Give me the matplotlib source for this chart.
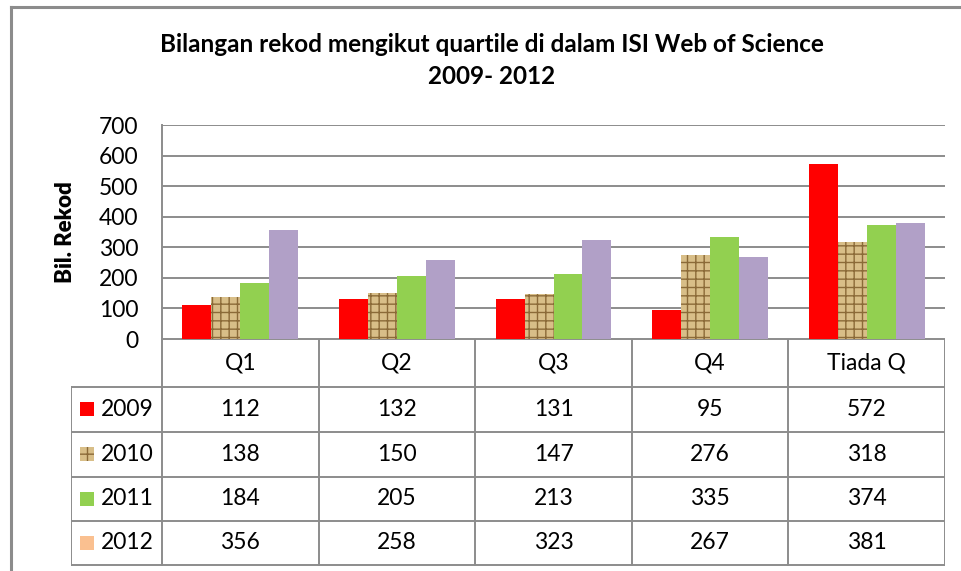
import matplotlib.pyplot as plt
import numpy as np
from matplotlib.patches import Rectangle

# data
categories = ["Q1", "Q2", "Q3", "Q4", "Tiada Q"]
years = ["2009", "2010", "2011", "2012"]
v2009 = [112, 132, 131, 95, 572]
v2010 = [138, 150, 147, 276, 318]
v2011 = [184, 205, 213, 335, 374]
v2012 = [356, 258, 323, 267, 381]
series = [v2009, v2010, v2011, v2012]

bar_colors = ["#FF0000", "#D8BE88", "#92D050", "#B1A0C7"]
key_colors = ["#FF0000", "#D8BE88", "#92D050", "#FAC090"]
hatches = [None, "++", None, None]

plt.rcParams['font.family'] = ['Lato', 'DejaVu Sans']
plt.rcParams['hatch.linewidth'] = 1.0
grey = "#8C8C8C"
fs = 16.5

W, H = 961, 571
fig = plt.figure(figsize=(W / 100, H / 100), dpi=100)

def px_box(x0, y0, x1, y1):
    return [x0 / W, 1 - y1 / H, (x1 - x0) / W, (y1 - y0) / H]

# outer frame (left + top only visible)
fig.add_artist(plt.Line2D([11 / W, 11 / W], [0, 1 - 7 / H], transform=fig.transFigure, color=grey, lw=2.2))
fig.add_artist(plt.Line2D([11 / W, 1], [1 - 7 / H, 1 - 7 / H], transform=fig.transFigure, color=grey, lw=2.2))

fig.text(492 / W, 1 - 45 / H, "Bilangan rekod mengikut quartile di dalam ISI Web of Science",
         ha='center', va='center', fontsize=17.5, fontweight='bold')
fig.text(492 / W, 1 - 76 / H, "2009- 2012", ha='center', va='center', fontsize=17.5, fontweight='bold')

# bar chart
ax = fig.add_axes(px_box(162, 125, 945, 339))
n = len(categories)
w = 0.185
x = np.arange(n) + 0.5
for j, vals in enumerate(series):
    ax.bar(x + (j - 1.5) * w, vals, width=w, color=bar_colors[j],
           hatch=hatches[j], edgecolor="#8B6A38" if hatches[j] else bar_colors[j], lw=0)
ax.set_xlim(0, n)
ax.set_ylim(0, 700)
ax.set_yticks(np.arange(0, 701, 100))
ax.set_xticks([])
ax.yaxis.grid(True, color=grey, lw=1.4)
ax.set_axisbelow(True)
for s in ["top", "right", "bottom"]:
    ax.spines[s].set_visible(False)
ax.spines["left"].set_color(grey)
ax.spines["left"].set_linewidth(1.4)
ax.tick_params(axis='y', length=0, pad=17, labelsize=fs)
ax.set_ylabel("Bil. Rekod", fontsize=16, fontweight='heavy')
ax.yaxis.set_label_coords(-(162 - 76) / 783, 0.5)

# data table under the chart
tx0 = -(162 - 71) / 156.6
tax = fig.add_axes(px_box(71, 339, 945, 566))
tax.set_xlim(tx0, n)
tax.set_ylim(566, 339)
tax.axis('off')
rows_y = [339, 387, 432, 477, 521, 565]
lk = dict(color=grey, lw=1.4, solid_capstyle='projecting')
# horizontal lines
tax.plot([0, n], [rows_y[0]] * 2, **lk)
for yy in rows_y[1:]:
    tax.plot([tx0, n], [yy, yy], **lk)
# vertical lines
for i in range(n + 1):
    tax.plot([i, i], [rows_y[0], rows_y[-1]], **lk)
tax.plot([tx0, tx0], [rows_y[1], rows_y[-1]], **lk)

for i, c in enumerate(categories):
    tax.text(i + 0.5, (rows_y[0] + rows_y[1]) / 2, c, ha='center', va='center', fontsize=fs)
for j, vals in enumerate(series):
    yc = (rows_y[j + 1] + rows_y[j + 2]) / 2
    kx = tx0 + 9 / 156.6
    tax.add_patch(Rectangle((kx, yc - 7), 14 / 156.6, 14, facecolor=key_colors[j],
                            hatch=hatches[j], edgecolor="#8B6A38" if hatches[j] else key_colors[j], lw=0))
    tax.text(tx0 + 30 / 156.6, yc, years[j], ha='left', va='center', fontsize=fs)
    for i, v in enumerate(vals):
        tax.text(i + 0.5, yc, str(v), ha='center', va='center', fontsize=fs)

fig.savefig("out.png", dpi=100)
